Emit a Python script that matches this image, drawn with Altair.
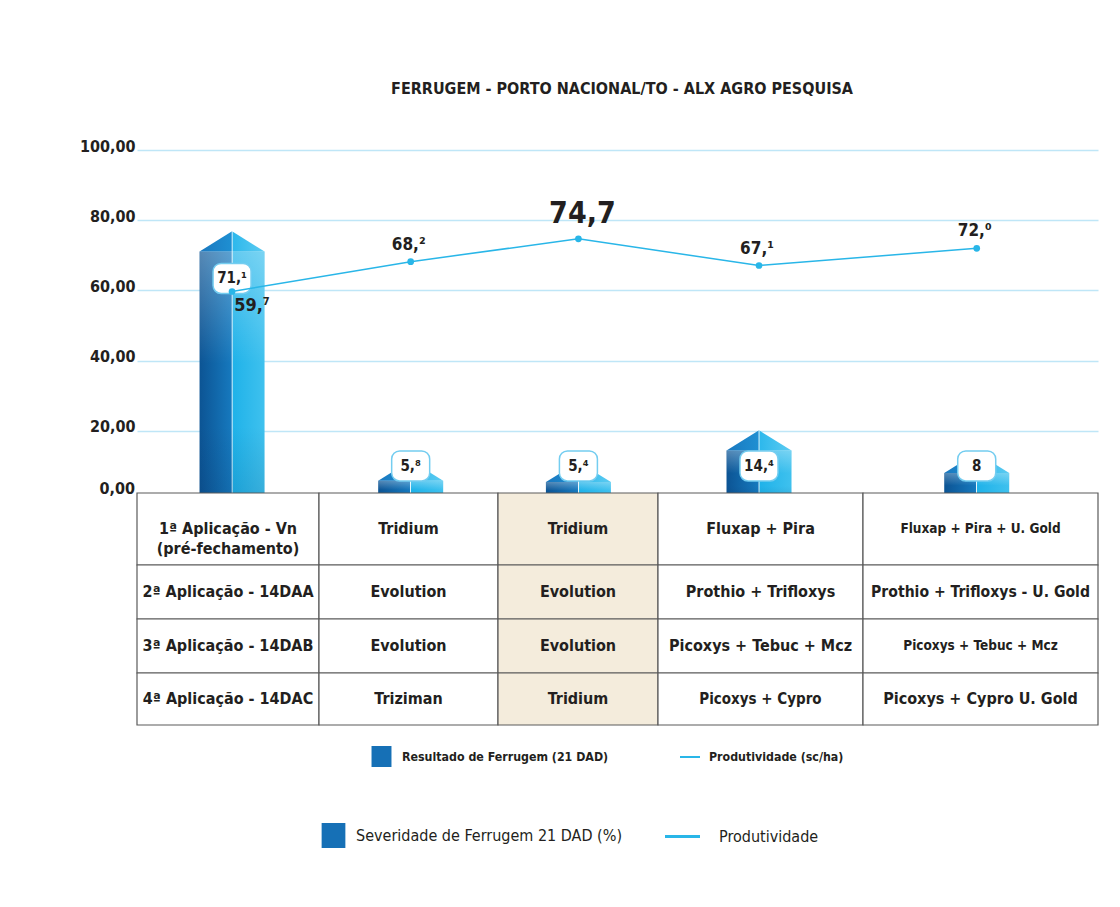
import altair as alt
import pandas as pd

# ---------------- data ----------------
TITLE = "FERRUGEM - PORTO NACIONAL/TO - ALX AGRO PESQUISA"
PROGRAMS = ["Testemunha", "Programa 1", "Programa 2", "Programa 3", "Programa 4"]
SEVERITY = [71.1, 5.8, 5.4, 14.4, 8]          # Severidade de ferrugem 21 DAD (%)
PRODUCTIVITY = [59.7, 68.2, 74.7, 67.1, 72.0]  # Produtividade (sc/ha)
HIGHLIGHT = 2
Y_TICKS = [0, 20, 40, 60, 80, 100]

ROW_HEADERS = ["1ª Aplicação - Vn\n(pré-fechamento)", "2ª Aplicação - 14DAA",
               "3ª Aplicação - 14DAB", "4ª Aplicação - 14DAC"]
APP1 = ["Tridium", "Tridium", "Fluxap + Pira", "Fluxap + Pira + U. Gold"]
APP2 = ["Evolution", "Evolution", "Prothio + Trifloxys", "Prothio + Trifloxys - U. Gold"]
APP3 = ["Evolution", "Evolution", "Picoxys + Tebuc + Mcz", "Picoxys + Tebuc + Mcz"]
APP4 = ["Triziman", "Tridium", "Picoxys + Cypro", "Picoxys + Cypro U. Gold"]

LEGEND_LABELS = ["Resultado de Ferrugem (21 DAD)", "Produtividade (sc/ha)",
                 "Severidade de Ferrugem 21 DAD (%)", "Produtividade"]

# ---------------- style / layout ----------------
FONT = "DejaVu Sans Condensed, Liberation Sans Narrow, Roboto, sans-serif"
TXT = "#231f20"
CYAN = "#29b6e8"
DARK = "#1670b6"
BEIGE = "#f4ecdc"
GRID = "#bfe6f7"
COL_W = [182, 179, 160, 205, 235]
ROW_H = [72, 54, 54, 52]
W = sum(COL_W)
H_TOP = 343
H_TAB = sum(ROW_H)
Y_MIN = 2.3          # the table hides the lowest strip of the plot
CELL_FS = 16
SMALL_CELLS = {(0, 4): 13.5, (2, 4): 13.5, (3, 3): 15, (1, 4): 15.6}

SUP = str.maketrans("0123456789", "⁰¹²³⁴⁵⁶⁷⁸⁹")


def fmt(v, keep_zero):
    ip, dp = f"{v:.1f}".split(".")
    if dp == "0" and not keep_zero:
        return ip
    return ip + "," + dp.translate(SUP)


edges = [sum(COL_W[:i]) for i in range(len(COL_W) + 1)]
centers = [(edges[i] + edges[i + 1]) / 2 for i in range(len(COL_W))]

df = pd.DataFrame({
    "program": PROGRAMS,
    "idx": list(range(len(PROGRAMS))),
    "sev": SEVERITY,
    "prod": PRODUCTIVITY,
    "xc": centers,
})
df["sev_lbl"] = [fmt(v, False) for v in SEVERITY]
df["prod_lbl"] = [fmt(v, True) if i != HIGHLIGHT else f"{v:.1f}".replace(".", ",")
                  for i, v in enumerate(PRODUCTIVITY)]

xs = alt.Scale(domain=[0, W], nice=False, zero=False)
ys = alt.Scale(domain=[Y_MIN, 100], nice=False, zero=False)

BAR_GRAD = alt.LinearGradient(
    gradient="linear", x1=0, x2=1, y1=0, y2=0,
    stops=[alt.GradientStop(color="#0c5494", offset=0),
           alt.GradientStop(color="#1679be", offset=0.49),
           alt.GradientStop(color="#e6f6fc", offset=0.495),
           alt.GradientStop(color="#e6f6fc", offset=0.505),
           alt.GradientStop(color="#1fb2e9", offset=0.51),
           alt.GradientStop(color="#3fc1ee", offset=1)])
GLOSS = alt.LinearGradient(
    gradient="linear", x1=0, x2=0, y1=0, y2=1,
    stops=[alt.GradientStop(color="rgba(255,255,255,0.30)", offset=0),
           alt.GradientStop(color="rgba(255,255,255,0.0)", offset=0.45),
           alt.GradientStop(color="rgba(0,20,60,0.0)", offset=0.7),
           alt.GradientStop(color="rgba(0,20,60,0.12)", offset=1)])
ROOF_GRAD = alt.LinearGradient(
    gradient="linear", x1=0, x2=1, y1=0, y2=0,
    stops=[alt.GradientStop(color="#1a78bf", offset=0),
           alt.GradientStop(color="#1e8fd2", offset=0.49),
           alt.GradientStop(color="#e6f6fc", offset=0.495),
           alt.GradientStop(color="#e6f6fc", offset=0.505),
           alt.GradientStop(color="#2db8ec", offset=0.51),
           alt.GradientStop(color="#5ccbf1", offset=1)])

base = alt.Chart(df)
X = alt.X("xc:Q", scale=xs, axis=None)

y_axis = alt.Axis(
    values=Y_TICKS, title=None, domain=False, ticks=False,
    labelExpr="replace(format(datum.value, '.2f'), '.', ',')",
    labelFont=FONT, labelFontSize=16, labelFontWeight="bold", labelColor=TXT,
    labelPadding=2, labelBaseline="middle", labelOffset=-4,
    gridColor=GRID, gridWidth=1.5,
)

bars = base.mark_bar(width=65, clip=True, color=BAR_GRAD).encode(
    x=X, y=alt.Y("sev:Q", scale=ys, axis=y_axis))
gloss = base.mark_bar(width=65, clip=True, color=GLOSS).encode(
    x=X, y=alt.Y("sev:Q", scale=ys))
roofs = base.mark_point(shape="M -1 0 L 0 -0.62 L 1 0 Z", size=65 ** 2, filled=True,
                        opacity=1, fill=ROOF_GRAD, strokeWidth=0).encode(
    x=X, y=alt.Y("sev:Q", scale=ys))
boxed = base.transform_calculate(box_y="max(datum.sev - 7.7, 10)")
boxes = boxed.mark_bar(width=38, cornerRadius=8, fill="white", stroke="#74cdf0",
                       strokeWidth=1.5, yOffset=-15, y2Offset=15).encode(
    x=X, y=alt.Y("box_y:Q", scale=ys), y2="box_y:Q")
box_text = boxed.mark_text(font=FONT, fontSize=15, fontWeight="bold", color=TXT).encode(
    x=X, y=alt.Y("box_y:Q", scale=ys), text="sev_lbl:N")

line = base.mark_line(color=CYAN, strokeWidth=1.5).encode(x=X, y=alt.Y("prod:Q", scale=ys))
pts = base.mark_circle(size=45, color=CYAN, opacity=1).encode(x=X, y=alt.Y("prod:Q", scale=ys))

lbl_first = base.transform_filter("datum.idx == 0").mark_text(
    font=FONT, fontSize=18, fontWeight="bold", color=TXT, dx=20, dy=15).encode(
    x=X, y=alt.Y("prod:Q", scale=ys), text="prod_lbl:N")
lbl_other = base.transform_filter(f"datum.idx != 0 && datum.idx != {HIGHLIGHT}").mark_text(
    font=FONT, fontSize=17, fontWeight="bold", color=TXT, dx=-2, dy=-17).encode(
    x=X, y=alt.Y("prod:Q", scale=ys), text="prod_lbl:N")
lbl_high = base.transform_filter(f"datum.idx == {HIGHLIGHT}").mark_text(
    font=FONT, fontSize=30, fontWeight="bold", color=TXT, dx=4, dy=-25).encode(
    x=X, y=alt.Y("prod:Q", scale=ys), text="prod_lbl:N")

# the zero label of the axis (its grid line is hidden under the table)
zero_lbl = base.transform_filter("datum.idx == 0").mark_text(
    font=FONT, fontSize=16, fontWeight="bold", color=TXT, align="right",
    baseline="middle", dy=-12, dx=-2).encode(
    x=alt.value(0), y=alt.datum(Y_TICKS[0], scale=ys),
    text=alt.value("0,00"))

top = alt.layer(bars, gloss, roofs, boxes, box_text, line, pts, lbl_first, lbl_other, lbl_high,
                zero_lbl).properties(width=W, height=H_TOP)

# ---------------- table ----------------
rows = []
yedges = [sum(ROW_H[:i]) for i in range(len(ROW_H) + 1)]
apps = [APP1, APP2, APP3, APP4]
for r in range(len(ROW_H)):
    for c in range(len(COL_W)):
        text = ROW_HEADERS[r] if c == 0 else apps[r][c - 1]
        rows.append({"r": r, "c": c, "text": text,
                     "x0": edges[c], "x1": edges[c + 1],
                     "y0": yedges[r], "y1": yedges[r + 1],
                     "xc": centers[c], "yc": (yedges[r] + yedges[r + 1]) / 2,
                     "fs": SMALL_CELLS.get((r, c), CELL_FS),
                     "hl": 1 if c == HIGHLIGHT else 0})
cells = pd.DataFrame(rows)
tys = alt.Scale(domain=[0, H_TAB], reverse=True, nice=False, zero=False)
tab = alt.Chart(cells)
rects = tab.mark_rect(stroke="#5a5a5a", strokeWidth=1.2).encode(
    x=alt.X("x0:Q", scale=xs, axis=None), x2="x1:Q",
    y=alt.Y("y0:Q", scale=tys, axis=None), y2="y1:Q",
    fill=alt.condition("datum.hl == 1", alt.value(BEIGE), alt.value("white")))
texts = tab.mark_text(font=FONT, fontWeight="bold", color=TXT, lineBreak="\n",
                      lineHeight=20).encode(
    x=alt.X("xc:Q", scale=xs, axis=None), y=alt.Y("yc:Q", scale=tys, axis=None),
    text="text:N", size=alt.Size("fs:Q", scale=None))

leg_df = pd.DataFrame({"item": LEGEND_LABELS})
SQ1 = "M -0.95 -1 L 0.95 -1 L 0.95 1 L -0.95 1 Z"
LN1 = "M -1 -0.1 L 1 -0.1 L 1 0.1 L -1 0.1 Z"
LN2 = "M -1 -0.09 L 1 -0.09 L 1 0.09 L -1 0.09 Z"
leg_specs = [
    (LEGEND_LABELS[0], DARK, SQ1, 441, 12.3, "bold", 10, 234, 253),
    (LEGEND_LABELS[1], CYAN, LN1, 400, 12.3, "bold", 9, 543, 254),
    (LEGEND_LABELS[2], DARK, SQ1, 625, 16, "normal", 10, 184, 330),
    (LEGEND_LABELS[3], CYAN, LN2, 1225, 16, "normal", 19, 528, 326),
]
leg_layers = []
for lab, col, shp, sz, fs, fw, lo, lx, ly in leg_specs:
    leg_layers.append(
        alt.Chart(leg_df).transform_filter("false").mark_point(filled=True, opacity=1).encode(
            color=alt.Color("item:N", scale=alt.Scale(domain=[lab], range=[col]),
                            legend=alt.Legend(title=None, orient="none", legendX=lx, legendY=ly,
                                              symbolType=shp, symbolSize=sz, symbolStrokeWidth=0,
                                              labelFont=FONT, labelFontSize=fs, labelColor=TXT,
                                              labelFontWeight=fw, labelOffset=lo,
                                              padding=0, labelLimit=400))))

table = alt.layer(rects, texts, *leg_layers).resolve_scale(color="independent").properties(
    width=W, height=H_TAB)

chart = alt.vconcat(top, table, spacing=0, bounds="flush").resolve_scale(color="independent").properties(
    title=alt.TitleParams(TITLE, font=FONT, fontSize=16, fontWeight="bold", color=TXT,
                          anchor="middle", offset=41, dx=33),
    padding={"left": 71, "top": 73, "right": 2, "bottom": 10},
).configure_view(stroke=None)

chart.save("out.html", embed_options={"renderer": "svg", "actions": False})
